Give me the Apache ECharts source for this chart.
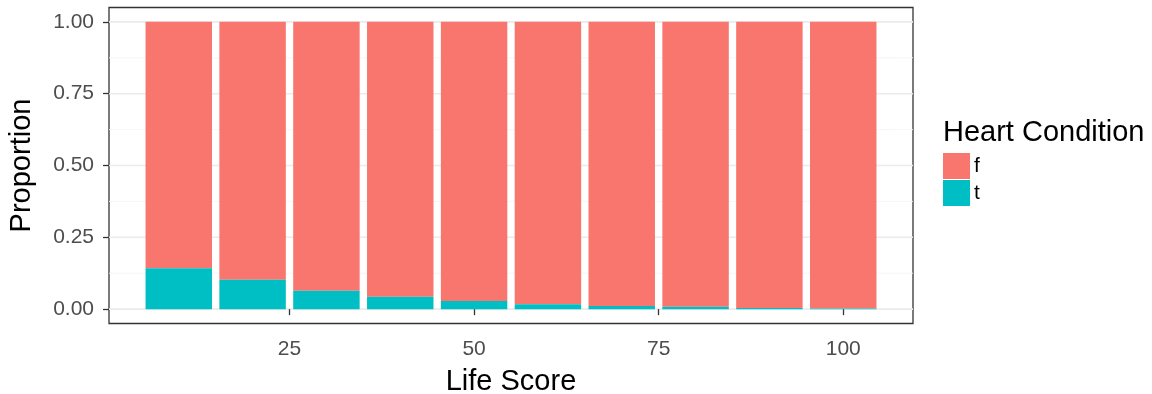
<!DOCTYPE html>
<html>
<head>
<meta charset="utf-8">
<script src="https://cdn.jsdelivr.net/npm/echarts@6/dist/echarts.min.js"></script>
<style>
html,body{margin:0;padding:0;background:#fff;}
#chart{width:1152px;height:394px;}
</style>
</head>
<body>
<div id="chart"></div>
<script>
// ---- data ----
const lifeScores = [10, 20, 30, 40, 50, 60, 70, 80, 90, 100];
const propT = [0.142, 0.102, 0.064, 0.043, 0.028, 0.017, 0.011, 0.008, 0.004, 0.002];
const propF = [0.858, 0.898, 0.936, 0.957, 0.972, 0.983, 0.989, 0.992, 0.996, 0.998];
const groupNames = ['f', 't'];
const xTicks = [25, 50, 75, 100];
const xMinor = [12.5, 37.5, 62.5, 87.5];
const yTicks = [0, 0.25, 0.5, 0.75, 1];
const yMinor = [0.125, 0.375, 0.625, 0.875];
const barW = 9;

const colors = {f: '#F8766D', t: '#00BFC4'};
const FONT = '"Liberation Sans", Arial, Helvetica, sans-serif';

const chart = echarts.init(document.getElementById('chart'), null, {renderer: 'canvas'});

function rectItem(color) {
  return function (params, api) {
    const x = api.value(0), y0 = api.value(1), y1 = api.value(2);
    const p1 = api.coord([x - barW / 2, y1]);
    const p0 = api.coord([x + barW / 2, y0]);
    return {
      type: 'rect',
      shape: {x: p1[0], y: p1[1], width: p0[0] - p1[0], height: p0[1] - p1[1]},
      style: {fill: color}
    };
  };
}

const gridData = [];
xTicks.forEach(v => gridData.push(['x', v, 1]));
xMinor.forEach(v => gridData.push(['x', v, 0]));
yTicks.forEach(v => gridData.push(['y', v, 1]));
yMinor.forEach(v => gridData.push(['y', v, 0]));

const option = {
  animation: false,
  backgroundColor: '#ffffff',
  textStyle: {fontFamily: FONT},
  title: {
    text: 'Heart Condition', left: 943, top: 118,
    textStyle: {fontFamily: FONT, fontSize: 29, fontWeight: 'normal', color: '#000'},
    padding: 0
  },
  legend: {
    orient: 'vertical', left: 943, top: 153, padding: 0,
    itemWidth: 27, itemHeight: 26, itemGap: 1,
    data: groupNames.map(n => ({name: n, icon: 'rect'})),
    textStyle: {fontFamily: FONT, fontSize: 21, color: '#000', padding: [0, 0, 0, -1]},
    selectedMode: false
  },
  grid: {
    left: 109, top: 7.5, width: 804, height: 316,
    outerBoundsMode: 'none', containLabel: false,
    show: true, borderColor: '#333333', borderWidth: 1.3, backgroundColor: '#fff'
  },
  xAxis: {
    type: 'value', min: 0.55, max: 109.45,
    name: 'Life Score', nameLocation: 'middle', nameGap: 44,
    nameTextStyle: {fontFamily: FONT, fontSize: 29, color: '#000'},
    axisLine: {show: false},
    axisTick: {show: true, length: 6, customValues: xTicks, lineStyle: {color: '#333', width: 1.3}},
    axisLabel: {customValues: xTicks, margin: 15, fontFamily: FONT, fontSize: 21, color: '#4d4d4d'},
    splitLine: {show: false}
  },
  yAxis: {
    type: 'value', min: -0.05, max: 1.05,
    name: 'Proportion', nameLocation: 'middle', nameGap: 73, nameRotate: 90,
    nameTextStyle: {fontFamily: FONT, fontSize: 29, color: '#000'},
    axisLine: {show: false},
    axisTick: {show: true, length: 6, customValues: yTicks, lineStyle: {color: '#333', width: 1.3}},
    axisLabel: {customValues: yTicks, margin: 15, fontFamily: FONT, fontSize: 21, color: '#4d4d4d',
      formatter: v => v.toFixed(2)},
    splitLine: {show: false}
  },
  series: [
    {
      type: 'custom', name: '_grid', silent: true, z: 0,
      data: gridData,
      encode: {x: 1},
      renderItem: function (params, api) {
        const cs = params.coordSys;
        const dir = api.value(0), v = api.value(1), major = api.value(2);
        const style = {stroke: major ? '#ebebeb' : '#f5f5f5', lineWidth: major ? 1.6 : 0.9};
        if (dir === 'x') {
          const px = api.coord([v, 0])[0];
          return {type: 'line', shape: {x1: px, y1: cs.y, x2: px, y2: cs.y + cs.height}, style};
        } else {
          const py = api.coord([0.55, v])[1];
          return {type: 'line', shape: {x1: cs.x, y1: py, x2: cs.x + cs.width, y2: py}, style};
        }
      }
    },
    {
      type: 'custom', name: 'f', z: 2,
      itemStyle: {color: colors.f},
      data: lifeScores.map((x, i) => [x, propT[i], propT[i] + propF[i]]),
      encode: {x: 0, y: [1, 2]},
      renderItem: rectItem(colors.f)
    },
    {
      type: 'custom', name: 't', z: 2,
      itemStyle: {color: colors.t},
      data: lifeScores.map((x, i) => [x, 0, propT[i]]),
      encode: {x: 0, y: [1, 2]},
      renderItem: rectItem(colors.t)
    }
  ]
};
chart.setOption(option);
</script>
</body>
</html>
